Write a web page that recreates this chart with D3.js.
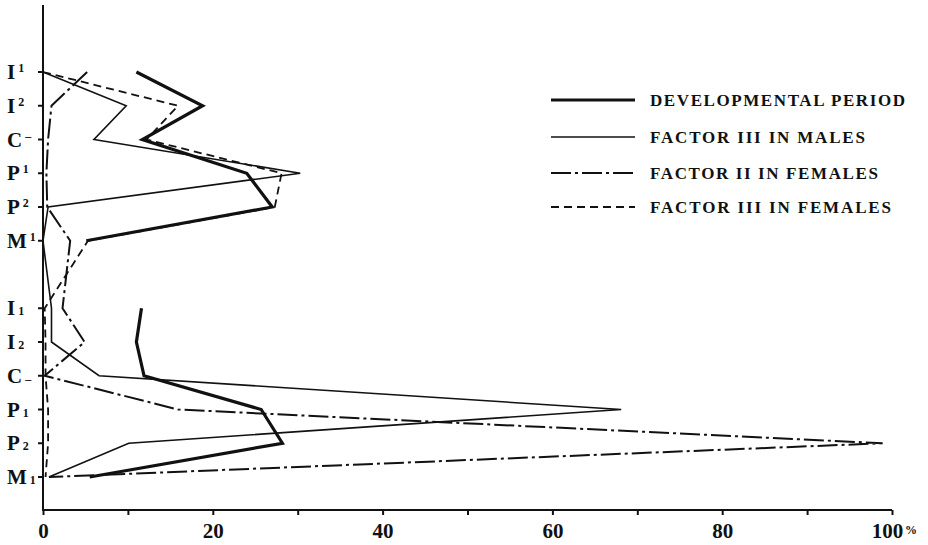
<!DOCTYPE html>
<html>
<head>
<meta charset="utf-8">
<script src="https://cdn.jsdelivr.net/npm/d3@7"></script>
<style>
  body { margin: 0; background: #fff; }
  svg { display: block; }
  text { font-family: 'Liberation Serif', 'DejaVu Serif', serif; font-weight: bold; fill: #111; }
</style>
</head>
<body>
<div id="chart"></div>
<script>
// rows of the tooth scale, upper jaw then a blank row then lower jaw
const rows = ['I1', 'I2', 'C', 'P1', 'P2', 'M1', 'gap', 'i1', 'i2', 'c', 'p1', 'p2', 'm1']
const rowLetters = ['I', 'I', 'C', 'P', 'P', 'M', null, 'I', 'I', 'C', 'P', 'P', 'M']
const rowMarks = ['1', '2', '\u2013', '1', '2', '1', null, '1', '2', '\u2013', '1', '2', '1']
const xTicks = [0, 10, 20, 30, 40, 50, 60, 70, 80, 90, 100]

// percentages (null = blank row)
const developmental = [11.0, 18.8, 11.7, 24.0, 27.0, 5.1, null, 11.6, 11.0, 11.9, 25.7, 28.2, 5.5]
const factor3Males = [0, 9.8, 6.0, 30.3, 0.6, 0, null, 1.0, 1.0, 6.6, 68.1, 10.1, 0.7]
const factor2Females = [5.2, 1.0, 0.6, 0.4, 0.5, 3.2, null, 2.3, 4.9, 0.2, 15.9, 98.9, 0.7]
const factor3Females = [0, 15.9, 12.2, 28.1, 27.3, 5.3, null, 0.2, 0.3, 0.3, 0.6, 0.6, 0.3]

const series = [
  { name: 'DEVELOPMENTAL PERIOD', values: developmental, width: 3.2, dash: null, breakAtGap: true, textLength: 255 },
  { name: 'FACTOR III IN MALES', values: factor3Males, width: 1.6, dash: null, breakAtGap: false, textLength: 215 },
  { name: 'FACTOR II IN FEMALES', values: factor2Females, width: 2, dash: '20 4 3 4', breakAtGap: false, textLength: 228 },
  { name: 'FACTOR III IN FEMALES', values: factor3Females, width: 1.8, dash: '8 5', breakAtGap: false, textLength: 241 }
]

const params = {
  width: 928,
  height: 545,
  x0: 43,
  x1: 892,
  yTop: 5,
  yAxis: 510,
  rowTop: 72,
  rowBottom: 477
}

function drawAxes(svg, x, y) {
  const { x0, x1, yTop, yAxis } = params

  const xAxis = g =>
    g
      .attr('transform', `translate(0, ${yAxis})`)
      .call(
        d3
          .axisBottom(x)
          .tickValues(xTicks)
          .tickFormat(d => (d % 20 === 0 ? d : ''))
          .tickSize(5)
          .tickPadding(8)
          .tickSizeOuter(0)
      )

  const gx = svg.append('g').call(xAxis)
  gx.select('.domain').remove()
  gx.selectAll('line').attr('stroke', '#111').attr('stroke-width', 2)
  gx.selectAll('text')
    .attr('font-size', 21)
    .attr('fill', '#111')
    .attr('dx', d => (d === 100 ? -5 : 0))

  svg
    .append('text')
    .attr('x', x(100) + 13)
    .attr('y', yAxis + 24)
    .attr('font-size', 12)
    .text('%')

  svg
    .append('path')
    .attr('d', `M${x0},${yTop}V${yAxis}H${x1}`)
    .attr('fill', 'none')
    .attr('stroke', '#111')
    .attr('stroke-width', 2)

  const labelled = rows.filter((_, i) => rowLetters[i] !== null)

  svg
    .append('g')
    .selectAll('line')
    .data(labelled)
    .join('line')
    .attr('x1', x0 - 5)
    .attr('x2', x0)
    .attr('y1', d => y(d))
    .attr('y2', d => y(d))
    .attr('stroke', '#111')
    .attr('stroke-width', 2)

  const labels = svg
    .append('g')
    .selectAll('text')
    .data(labelled)
    .join('text')
    .attr('x', 7)
    .attr('y', d => y(d) + 7)
    .attr('font-size', 21)

  labels.append('tspan').text(d => rowLetters[rows.indexOf(d)])
  labels
    .append('tspan')
    .attr('font-size', 12)
    .attr('dx', 3)
    .attr('dy', d => (rows.indexOf(d) < 6 ? -7 : 0))
    .text(d => rowMarks[rows.indexOf(d)])
}

function drawLines(svg, x, y) {
  series.forEach(s => {
    const points = rows.map((r, i) => ({ row: r, v: s.values[i] }))
    const line = d3
      .line()
      .defined(d => d.v !== null)
      .x(d => x(d.v))
      .y(d => y(d.row))

    svg
      .append('path')
      .datum(s.breakAtGap ? points : points.filter(d => d.v !== null))
      .attr('d', line)
      .attr('fill', 'none')
      .attr('stroke', '#111')
      .attr('stroke-width', s.width)
      .attr('stroke-linejoin', 'miter')
      .attr('stroke-dasharray', s.dash)
  })
}

function drawLegend(svg) {
  const rowsY = [100, 137, 173, 207]
  const g = svg.append('g')

  g.selectAll('line')
    .data(series)
    .join('line')
    .attr('x1', 551)
    .attr('x2', 635)
    .attr('y1', (_, i) => rowsY[i])
    .attr('y2', (_, i) => rowsY[i])
    .attr('stroke', '#111')
    .attr('stroke-width', d => d.width)
    .attr('stroke-dasharray', d => d.dash)

  g.selectAll('text')
    .data(series)
    .join('text')
    .attr('x', 650)
    .attr('y', (_, i) => rowsY[i] + 6)
    .attr('font-size', 17)
    .attr('textLength', d => d.textLength)
    .attr('lengthAdjust', 'spacing')
    .text(d => d.name)
}

function drawChart(selector) {
  const svg = d3
    .select(selector)
    .append('svg')
    .attr('width', params.width)
    .attr('height', params.height)
    .attr('viewBox', [0, 0, params.width, params.height])

  const x = d3.scaleLinear().domain([0, 100]).range([params.x0, params.x1])
  const y = d3.scalePoint().domain(rows).range([params.rowTop, params.rowBottom])

  drawLines(svg, x, y)
  drawAxes(svg, x, y)
  drawLegend(svg)
}

drawChart('#chart')
</script>
</body>
</html>
